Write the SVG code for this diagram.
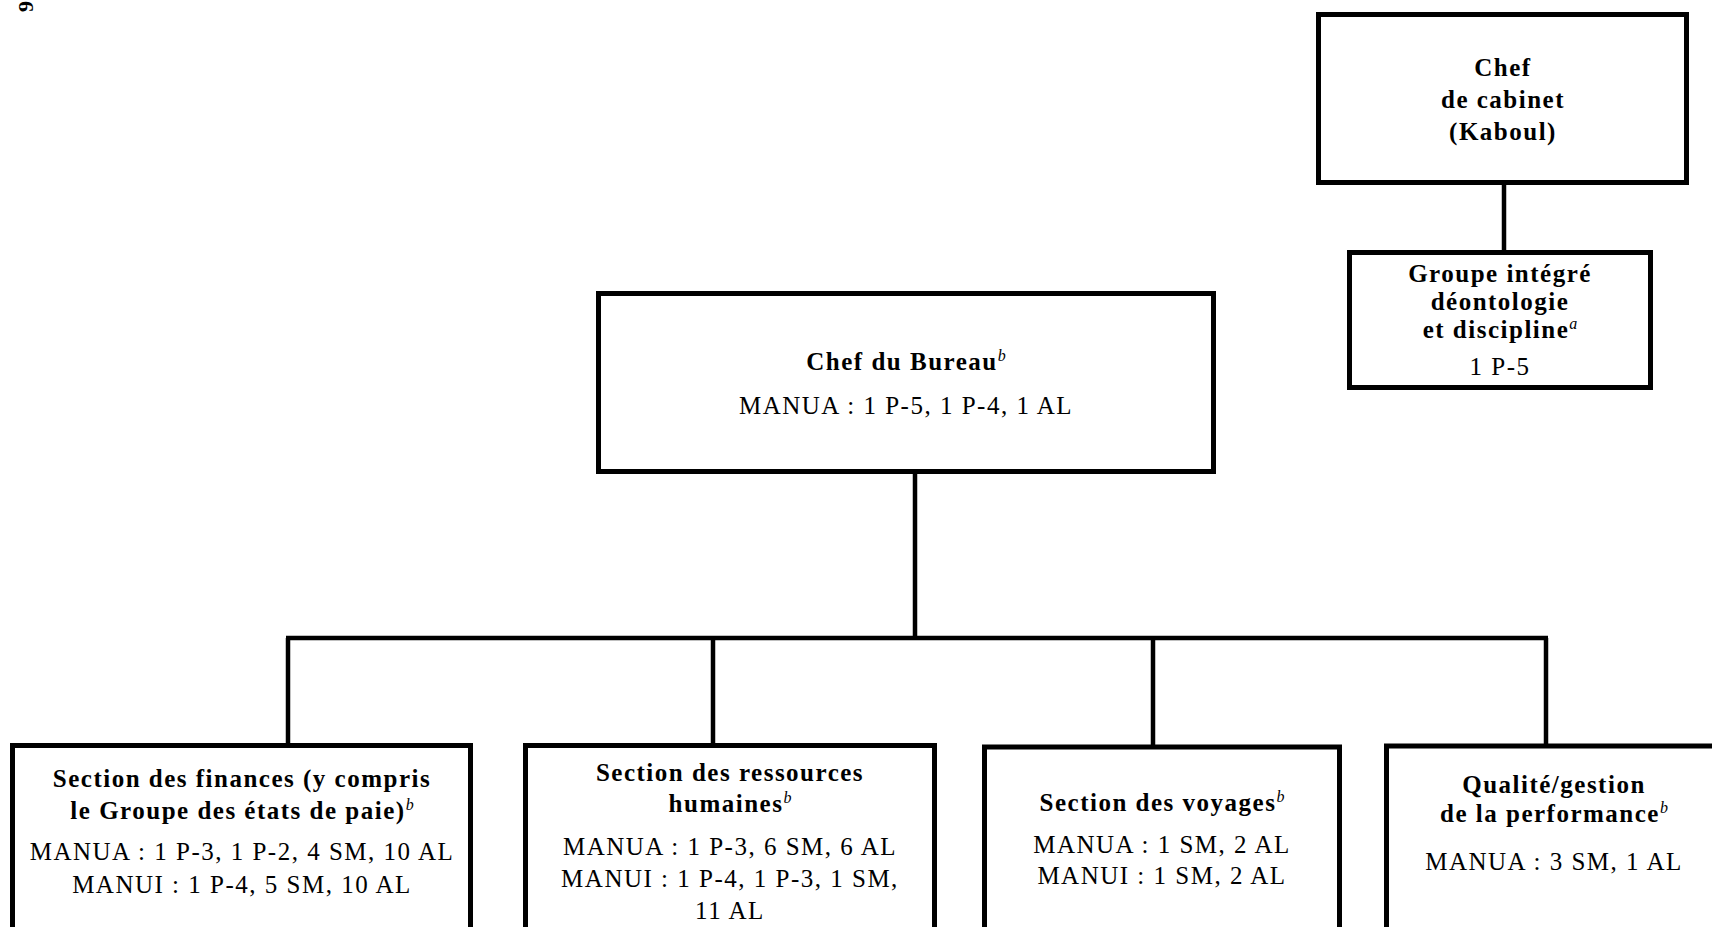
<svg xmlns="http://www.w3.org/2000/svg" width="1712" height="927" viewBox="0 0 1712 927">
<style>
.box{fill:#fff;stroke:#000;stroke-width:5}
.conn{stroke:#000;stroke-width:4.5;fill:none}
.t{font-family:"Liberation Serif","Times New Roman",serif;font-size:25px;letter-spacing:1.5px;text-anchor:middle;fill:#000}
.b{font-weight:bold}
.sup{font-style:italic;font-weight:normal;font-size:16px;letter-spacing:0}
</style>
<rect width="1712" height="927" fill="#fff"/>
<text transform="translate(33,12) rotate(-90)" font-family="Liberation Serif, serif" font-size="22" font-weight="bold">9</text>
<g id="connectors">
<line class="conn" x1="1504" y1="185" x2="1504" y2="251"/>
<line class="conn" x1="915" y1="473" x2="915" y2="638"/>
<line class="conn" x1="286" y1="638" x2="1548" y2="638"/>
<line class="conn" x1="288" y1="638" x2="288" y2="745"/>
<line class="conn" x1="713" y1="638" x2="713" y2="745"/>
<line class="conn" x1="1153" y1="638" x2="1153" y2="746"/>
<line class="conn" x1="1546" y1="638" x2="1546" y2="745"/>
</g>
<g id="chef-cabinet">
<rect class="box" x="1318.5" y="14.5" width="368" height="168"/>
<text class="t b" x="1503" y="76">Chef</text>
<text class="t b" x="1503" y="108">de cabinet</text>
<text class="t b" x="1503" y="140">(Kaboul)</text>
</g>
<g id="groupe-integre">
<rect class="box" x="1349.5" y="252.5" width="301" height="135"/>
<text class="t b" x="1500" y="282">Groupe intégré</text>
<text class="t b" x="1500" y="310">déontologie</text>
<text class="t b" x="1500" y="338">et discipline<tspan class="sup" dy="-9">a</tspan></text>
<text class="t" x="1500" y="375">1 P-5</text>
</g>
<g id="chef-bureau">
<rect class="box" x="598.5" y="293.5" width="615" height="178"/>
<text class="t b" x="906" y="370">Chef du Bureau<tspan class="sup" dy="-9">b</tspan></text>
<text class="t" x="906" y="414">MANUA : 1 P-5, 1 P-4, 1 AL</text>
</g>
<g id="section-finances">
<rect class="box" x="12.5" y="745.5" width="458" height="300"/>
<text class="t b" x="242" y="787">Section des finances (y compris</text>
<text class="t b" x="242" y="819">le Groupe des états de paie)<tspan class="sup" dy="-9">b</tspan></text>
<text class="t" x="242" y="860">MANUA : 1 P-3, 1 P-2, 4 SM, 10 AL</text>
<text class="t" x="242" y="893">MANUI : 1 P-4, 5 SM, 10 AL</text>
</g>
<g id="section-rh">
<rect class="box" x="525.5" y="745.5" width="409" height="300"/>
<text class="t b" x="730" y="781">Section des ressources</text>
<text class="t b" x="730" y="812">humaines<tspan class="sup" dy="-9">b</tspan></text>
<text class="t" x="730" y="855">MANUA : 1 P-3, 6 SM, 6 AL</text>
<text class="t" x="730" y="887">MANUI : 1 P-4, 1 P-3, 1 SM,</text>
<text class="t" x="730" y="919">11 AL</text>
</g>
<g id="section-voyages">
<rect class="box" x="984.5" y="747" width="355" height="300"/>
<text class="t b" x="1162" y="811">Section des voyages<tspan class="sup" dy="-9">b</tspan></text>
<text class="t" x="1162" y="853">MANUA : 1 SM, 2 AL</text>
<text class="t" x="1162" y="884">MANUI : 1 SM, 2 AL</text>
</g>
<g id="qualite-performance">
<rect class="box" x="1386.5" y="746" width="400" height="300"/>
<text class="t b" x="1554" y="793">Qualité/gestion</text>
<text class="t b" x="1554" y="822">de la performance<tspan class="sup" dy="-9">b</tspan></text>
<text class="t" x="1554" y="870">MANUA : 3 SM, 1 AL</text>
</g>
</svg>
